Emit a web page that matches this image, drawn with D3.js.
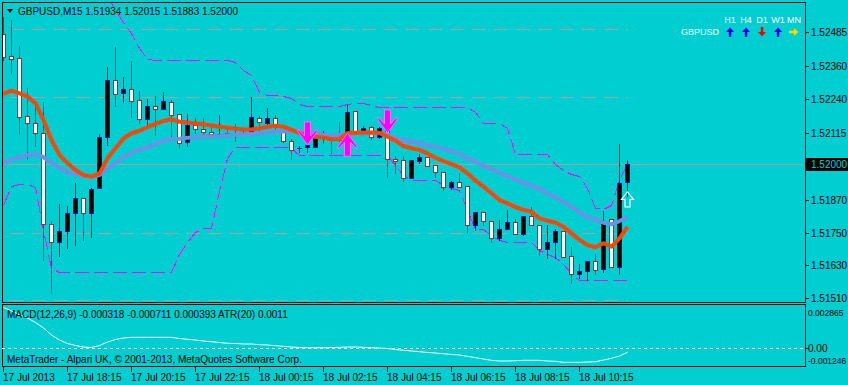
<!DOCTYPE html>
<html><head><meta charset="utf-8">
<script src="https://cdn.jsdelivr.net/npm/d3@7/dist/d3.min.js"></script>
<style>html,body{margin:0;padding:0;background:#00CED1;}svg{display:block;}text{font-family:"Liberation Sans",Arial,sans-serif;}</style>
</head><body>
<script>
// ---------- data ----------
const symbolTitle = "GBPUSD,M15  1.51934 1.52015 1.51883 1.52000";
const timeLabels = ["17 Jul 2013","17 Jul 18:15","17 Jul 20:15","17 Jul 22:15","18 Jul 00:15","18 Jul 02:15","18 Jul 04:15","18 Jul 06:15","18 Jul 08:15","18 Jul 10:15"];
const timeLabelBars = [0,8,16,24,32,40,48,56,64,72];
const priceTicks = [1.52485,1.52360,1.52240,1.52115,1.51870,1.51750,1.51630,1.51510];
const currentPrice = 1.52000;
const priceMin = 1.51510, priceMax = 1.52485;
const macdTicks = ["0.002865","0.00","-0.001246"];
const macdMin = -0.001246, macdMax = 0.002865;
const macdLabel = "MACD(12,26,9) -0.000318 -0.000711 0.000393  ATR(20) 0.0011";
const copyright = "MetaTrader - Alpari UK, \u00A9 2001-2013, MetaQuotes Software Corp.";
const levelPrices = [1.52496, 1.52248, 1.51748, 1.51501];

const open = [1.52478,1.52397,1.52389,1.52177,1.52150,1.52114,1.51781,1.51716,1.51757,1.51821,
1.51876,1.51821,1.51912,1.52099,1.52309,1.52260,1.52276,1.52236,1.52165,1.52214,
1.52202,1.52230,1.52183,1.52083,1.52143,1.52128,1.52119,1.52110,1.52114,1.52112,
1.52110,1.52123,1.52169,1.52150,1.52169,1.52126,1.52087,1.52057,1.52062,1.52065,
1.52100,1.52095,1.52090,1.52114,1.52196,1.52120,1.52136,1.52101,1.52126,1.52020,
1.52016,1.51949,1.52013,1.52026,1.51996,1.51971,1.51918,1.51934,1.51921,1.51778,
1.51826,1.51792,1.51729,1.51762,1.51788,1.51744,1.51812,1.51778,1.51690,1.51714,
1.51756,1.51664,1.51597,1.51609,1.51646,1.51615,1.51799,1.51623,1.51934];
const high = [1.52540,1.52529,1.52434,1.52279,1.52209,1.52230,1.51792,1.51855,1.51847,1.51931,
1.51878,1.51912,1.52111,1.52358,1.52429,1.52321,1.52380,1.52270,1.52240,1.52250,
1.52266,1.52236,1.52185,1.52185,1.52169,1.52169,1.52138,1.52181,1.52138,1.52148,
1.52132,1.52248,1.52177,1.52205,1.52181,1.52126,1.52092,1.52067,1.52075,1.52101,
1.52123,1.52095,1.52156,1.52218,1.52196,1.52141,1.52141,1.52138,1.52156,1.52031,
1.52031,1.52016,1.52038,1.52026,1.51996,1.51971,1.51940,1.51967,1.51921,1.51824,
1.51826,1.51792,1.51796,1.51833,1.51799,1.51812,1.51843,1.51778,1.51778,1.51763,
1.51756,1.51696,1.51634,1.51646,1.51670,1.51830,1.51799,1.52075,1.52015];
const low = [1.52382,1.52336,1.52115,1.52018,1.52067,1.51649,1.51530,1.51664,1.51694,1.51704,
1.51723,1.51735,1.51912,1.52071,1.52214,1.52230,1.52175,1.52150,1.52144,1.52108,
1.52202,1.52104,1.52059,1.52068,1.52114,1.52106,1.52104,1.52110,1.52110,1.52087,
1.52110,1.52123,1.52123,1.52144,1.52126,1.52081,1.52018,1.52046,1.52046,1.52065,
1.52079,1.52043,1.52087,1.52108,1.52114,1.52120,1.52092,1.52095,1.51955,1.51967,
1.51940,1.51949,1.52004,1.51994,1.51953,1.51906,1.51910,1.51918,1.51753,1.51759,
1.51778,1.51716,1.51723,1.51762,1.51744,1.51742,1.51778,1.51668,1.51656,1.51656,
1.51662,1.51566,1.51585,1.51576,1.51598,1.51607,1.51623,1.51598,1.51883];
const close = [1.52395,1.52385,1.52175,1.52150,1.52114,1.51781,1.51716,1.51756,1.51821,1.51876,
1.51821,1.51909,1.52099,1.52309,1.52257,1.52276,1.52233,1.52165,1.52214,1.52202,
1.52232,1.52181,1.52077,1.52144,1.52128,1.52119,1.52110,1.52110,1.52110,1.52110,
1.52115,1.52172,1.52156,1.52169,1.52144,1.52087,1.52053,1.52058,1.52071,1.52095,
1.52102,1.52089,1.52089,1.52193,1.52114,1.52134,1.52101,1.52134,1.52018,1.52013,
1.51949,1.52016,1.52026,1.51994,1.51971,1.51918,1.51934,1.51918,1.51778,1.51824,
1.51792,1.51729,1.51763,1.51788,1.51744,1.51812,1.51778,1.51690,1.51714,1.51756,
1.51662,1.51597,1.51609,1.51646,1.51613,1.51786,1.51623,1.51931,1.52000];

const maFast = [1.52258,1.52270,1.52260,1.52248,1.52224,1.52162,1.52089,1.52034,1.52004,1.51979,
1.51961,1.51955,1.51967,1.52022,1.52059,1.52095,1.52114,1.52123,1.52136,1.52148,
1.52159,1.52165,1.52156,1.52153,1.52150,1.52147,1.52142,1.52138,1.52134,1.52130,
1.52128,1.52128,1.52132,1.52138,1.52141,1.52138,1.52126,1.52114,1.52108,1.52101,
1.52098,1.52092,1.52093,1.52114,1.52116,1.52117,1.52117,1.52116,1.52101,1.52087,
1.52067,1.52059,1.52053,1.52040,1.52024,1.52012,1.52001,1.51989,1.51967,1.51940,
1.51918,1.51894,1.51869,1.51857,1.51843,1.51833,1.51826,1.51802,1.51793,1.51786,
1.51771,1.51747,1.51723,1.51704,1.51696,1.51711,1.51698,1.51729,1.51771];
const maSlow = [1.52004,1.52018,1.52026,1.52033,1.52038,1.52026,1.52006,1.51986,1.51969,1.51965,
1.51957,1.51953,1.51961,1.51986,1.52004,1.52026,1.52043,1.52053,1.52062,1.52075,
1.52087,1.52092,1.52094,1.52097,1.52099,1.52101,1.52103,1.52104,1.52106,1.52108,
1.52110,1.52111,1.52114,1.52116,1.52119,1.52120,1.52120,1.52119,1.52117,1.52111,
1.52108,1.52104,1.52108,1.52110,1.52112,1.52114,1.52114,1.52114,1.52110,1.52095,
1.52089,1.52083,1.52077,1.52071,1.52065,1.52056,1.52049,1.52037,1.52022,1.52010,
1.51994,1.51982,1.51969,1.51957,1.51945,1.51933,1.51921,1.51909,1.51894,1.51879,
1.51863,1.51843,1.51823,1.51806,1.51796,1.51786,1.51780,1.51792,1.51806];
const bandUpper = [null,null,null,null,null,null,null,null,null,null,
null,null,null,1.52621,1.52566,1.52522,1.52481,1.52426,1.52386,1.52382,
1.52382,1.52382,1.52382,1.52382,1.52382,1.52382,1.52382,1.52382,1.52382,1.52375,
1.52346,1.52327,1.52265,1.52254,1.52254,1.52250,1.52243,1.52221,1.52214,1.52214,
1.52214,1.52214,1.52214,1.52221,1.52225,1.52225,1.52218,1.52211,1.52211,1.52211,
1.52211,1.52211,1.52211,1.52211,1.52211,1.52211,1.52211,1.52211,1.52210,1.52192,
1.52153,1.52153,1.52153,1.52133,1.52038,1.52038,1.52038,1.52038,1.52038,1.52001,
1.51979,1.51965,1.51957,1.51913,1.51840,1.51836,1.51851,1.51943,1.52005];
const bandLower = [1.51851,1.51921,1.51927,1.51927,1.51917,1.51759,1.51620,1.51605,1.51604,1.51604,
1.51604,1.51604,1.51604,1.51604,1.51604,1.51604,1.51604,1.51604,1.51604,1.51604,
1.51604,1.51604,1.51671,1.51715,1.51752,1.51767,1.51767,1.51902,1.52023,1.52064,
1.52064,1.52064,1.52064,1.52064,1.52064,1.52064,1.52060,1.52034,1.52034,1.52034,
1.52034,1.52034,1.52034,1.52034,1.52034,1.52034,1.52034,1.52034,1.52034,1.51998,
1.51961,1.51943,1.51943,1.51943,1.51943,1.51924,1.51913,1.51906,1.51833,1.51763,
1.51763,1.51741,1.51723,1.51715,1.51715,1.51715,1.51715,1.51686,1.51671,1.51660,
1.51635,1.51602,1.51576,1.51576,1.51576,1.51576,1.51576,1.51576,1.51576];
const macd = [0.002696,0.002460,0.002224,0.001988,0.001685,0.001314,0.000842,0.000505,0.000270,0.000135,
0.000034,0.000000,0.000135,0.000371,0.000539,0.000640,0.000687,0.000687,0.000687,0.000687,
0.000687,0.000687,0.000607,0.000553,0.000505,0.000438,0.000391,0.000337,0.000283,0.000270,
0.000236,0.000236,0.000189,0.000168,0.000121,0.000081,0.000034,0.000000,-0.000013,-0.000013,
-0.000013,0.000000,0.000013,0.000034,0.000034,0.000013,-0.000013,-0.000034,-0.000067,-0.000135,
-0.000189,-0.000236,-0.000283,-0.000337,-0.000371,-0.000418,-0.000472,-0.000505,-0.000593,-0.000687,
-0.000775,-0.000863,-0.000910,-0.000910,-0.000890,-0.000863,-0.000863,-0.000863,-0.000910,-0.000930,
-0.000997,-0.000997,-0.000997,-0.000977,-0.000957,-0.000842,-0.000728,-0.000573,-0.000318];

const signalBars = [38, 43, 48];
const signalDirs = ["down", "up", "down"];
const signalPrices = [1.52071, 1.52114, 1.52115];
const buyArrowBar = 78, buyArrowPrice = 1.51899;

const tfLabels = ["H1","H4","D1","W1","MN"];
const tfDirs = ["up","up","down","up","right"];
const tfColors = ["#0000ff","#0000ff","#ff0000","#0000ff","#ffd700"];

// ---------- layout ----------
const W = 848, H = 385;
const bg = "#00CED1";
const x = d3.scaleLinear().domain([0, 78]).range([3, 627]);
const y = d3.scaleLinear().domain([priceMin, priceMax]).range([298, 32]);
const ym = d3.scaleLinear().domain([macdMin, macdMax]).range([366, 305]);
const tf = d3.scaleLinear().domain([0, 4]).range([730, 794]);

const svg = d3.select("body").append("svg").attr("width", W).attr("height", H);
svg.append("rect").attr("width", W).attr("height", H).attr("fill", bg);

const defs = svg.append("defs");
defs.append("clipPath").attr("id","mainClip").append("rect").attr("x",2).attr("y",3).attr("width",803).attr("height",299);
defs.append("clipPath").attr("id","subClip").append("rect").attr("x",2).attr("y",305).attr("width",803).attr("height",61);

const main = svg.append("g").attr("clip-path","url(#mainClip)");
const idx = d3.range(open.length);
const px = i => Math.round(x(i));

// gray dashed levels
main.selectAll("line.level").data(levelPrices).join("line")
  .attr("x1", x(1) - 1).attr("x2", x(78) + 1)
  .attr("y1", d => Math.round(y(d)) + 0.5).attr("y2", d => Math.round(y(d)) + 0.5)
  .attr("stroke", "#ae9e9e").attr("stroke-width", 1).attr("stroke-dasharray", "14,8")
  .attr("shape-rendering", "crispEdges");

// current price line
main.append("line").attr("x1", 2).attr("x2", 805)
  .attr("y1", Math.round(y(currentPrice)) + 0.5).attr("y2", Math.round(y(currentPrice)) + 0.5)
  .attr("stroke", "#a0a0a0").attr("stroke-width", 1).attr("shape-rendering", "crispEdges");

// bands (magenta dashed)
const bandLine = d3.line().defined(d => d != null).x((d, i) => px(i) + 0.5).y(d => Math.round(y(d)) + 0.5);
[bandUpper, bandLower].forEach(arr => {
  main.append("path").datum(arr).attr("d", bandLine)
    .attr("fill", "none").attr("stroke", "#ff00ff").attr("stroke-width", 1).attr("stroke-dasharray", "14,5")
    .attr("shape-rendering", "crispEdges");
});

// candles
const cg = main.append("g").attr("shape-rendering", "crispEdges");
idx.forEach(i => {
  const bull = close[i] >= open[i];
  const col = bull ? "#0000ff" : "#ff0000";
  const cx = px(i);
  cg.append("line").attr("x1", cx + 0.5).attr("x2", cx + 0.5)
    .attr("y1", Math.round(y(high[i]))).attr("y2", Math.round(y(low[i])) + 1)
    .attr("stroke", col).attr("stroke-width", 1);
  const t = Math.round(y(Math.max(open[i], close[i])));
  const b = Math.round(y(Math.min(open[i], close[i])));
  if (b - t <= 1) {
    cg.append("line").attr("x1", cx - 2).attr("x2", cx + 3)
      .attr("y1", t + 0.5).attr("y2", t + 0.5).attr("stroke", col).attr("stroke-width", 1);
  } else {
    cg.append("rect").attr("x", cx - 1.5).attr("y", t + 0.5)
      .attr("width", 4).attr("height", b - t)
      .attr("fill", bull ? "#000000" : "#ffffff").attr("stroke", col).attr("stroke-width", 1);
  }
});

// moving averages
const maLine = d3.line().x((d, i) => px(i) + 0.5).y(d => y(d));
main.append("path").datum(maSlow).attr("d", maLine).attr("fill", "none")
  .attr("stroke", "#6f8fe6").attr("stroke-width", 4).attr("stroke-linejoin", "round");
main.append("path").datum(maFast).attr("d", maLine).attr("fill", "none")
  .attr("stroke", "#ff4500").attr("stroke-width", 4).attr("stroke-linejoin", "round");

// signal arrows
const downArrow = "M0,0 L-9.5,-13 L-9.5,-16 L-3,-9 L-3,-23 L3,-23 L3,-9 L9.5,-16 L9.5,-13 Z";
const upArrow = "M0,0 L-9.5,13 L-9.5,16 L-3,9 L-3,23 L3,23 L3,9 L9.5,16 L9.5,13 Z";
signalBars.forEach((b, k) => {
  main.append("path").attr("d", signalDirs[k] === "down" ? downArrow : upArrow)
    .attr("transform", `translate(${px(b) + 0.5},${y(signalPrices[k])})`)
    .attr("fill", "#ff00ff").attr("stroke", "#ff7fff").attr("stroke-width", 0.8);
});
main.append("path").attr("d", "M0,0 L-6,7.5 L-2.5,7.5 L-2.5,15 L2.5,15 L2.5,7.5 L6,7.5 Z")
  .attr("transform", `translate(${px(buyArrowBar) + 0.5},${y(buyArrowPrice)})`)
  .attr("fill", "none").attr("stroke", "#ffffff").attr("stroke-width", 1.2);

// borders
svg.append("rect").attr("x", 2.5).attr("y", 2.5).attr("width", 803).attr("height", 300)
  .attr("fill", "none").attr("stroke", "#000").attr("stroke-width", 1);
svg.append("rect").attr("x", 2.5).attr("y", 304.5).attr("width", 803).attr("height", 62)
  .attr("fill", "none").attr("stroke", "#000").attr("stroke-width", 1);

// title
svg.append("path").attr("d", "M7,9 L13,9 L10,13 Z").attr("fill", "#000");
svg.append("text").attr("x", 18).attr("y", 11).attr("dominant-baseline", "central")
  .attr("font-size", 10).attr("fill", "#000").text(symbolTitle);

// price axis
const pa = svg.append("g");
priceTicks.forEach(p => {
  const yy = Math.round(y(p)) + 0.5;
  pa.append("line").attr("x1", 806).attr("x2", 809).attr("y1", yy).attr("y2", yy).attr("stroke", "#000");
  pa.append("text").attr("x", 811).attr("y", yy).attr("dominant-baseline", "central")
    .attr("font-size", 10).attr("fill", "#000").text(p.toFixed(5));
});
const cy = Math.round(y(currentPrice)) + 0.5;
pa.append("rect").attr("x", 806).attr("y", cy - 6.5).attr("width", 42).attr("height", 13).attr("fill", "#000");
pa.append("text").attr("x", 811).attr("y", cy).attr("dominant-baseline", "central")
  .attr("font-size", 10).attr("fill", bg).text(currentPrice.toFixed(5));

// timeframe panel
const tp = svg.append("g");
tfLabels.forEach((t, k) => {
  tp.append("text").attr("x", tf(k)).attr("y", 20).attr("text-anchor", "middle").attr("dominant-baseline", "central")
    .attr("font-size", 9).attr("fill", "#fff").text(t);
  let d;
  if (tfDirs[k] === "up") d = "M0,-4.5 L-4,0 L-1.2,0 L-1.2,5 L1.2,5 L1.2,0 L4,0 Z";
  else if (tfDirs[k] === "down") d = "M0,4.5 L-4,0 L-1.2,0 L-1.2,-5 L1.2,-5 L1.2,0 L4,0 Z";
  else d = "M4.5,0 L0,-4 L0,-1.2 L-5,-1.2 L-5,1.2 L0,1.2 L0,4 Z";
  tp.append("path").attr("d", d).attr("transform", `translate(${tf(k)},32)`).attr("fill", tfColors[k]);
});
tp.append("text").attr("x", 719).attr("y", 32).attr("text-anchor", "end").attr("dominant-baseline", "central")
  .attr("font-size", 9).attr("fill", "#fff").text("GBPUSD");

// indicator window
const sub = svg.append("g").attr("clip-path", "url(#subClip)");
sub.append("line").attr("x1", 2).attr("x2", 805)
  .attr("y1", Math.round(ym(0)) + 0.5).attr("y2", Math.round(ym(0)) + 0.5)
  .attr("stroke", "#fff").attr("stroke-width", 1).attr("stroke-dasharray", "3,3").attr("shape-rendering", "crispEdges");
sub.append("path").datum(macd)
  .attr("d", d3.line().x((d, i) => px(i) + 0.5).y(d => ym(d)))
  .attr("fill", "none").attr("stroke", "#fff").attr("stroke-width", 1);
svg.append("text").attr("x", 7).attr("y", 314).attr("dominant-baseline", "central")
  .attr("font-size", 10).attr("fill", "#000").text(macdLabel);
svg.append("text").attr("x", 7).attr("y", 359).attr("dominant-baseline", "central")
  .attr("font-size", 10).attr("fill", "#000").text(copyright);
const macdTickY = [313, Math.round(ym(0)) + 0.5, 361];
macdTicks.forEach((t, k) => {
  svg.append("text").attr("x", 808).attr("y", macdTickY[k]).attr("dominant-baseline", "central")
    .attr("font-size", k === 1 ? 10 : 8.5).attr("fill", "#000").text(t);
});
svg.append("line").attr("x1", 806).attr("x2", 809).attr("y1", macdTickY[1]).attr("y2", macdTickY[1]).attr("stroke", "#000");

// time axis
timeLabelBars.forEach((b, k) => {
  const xx = px(b) + 0.5;
  svg.append("line").attr("x1", xx).attr("x2", xx).attr("y1", 367).attr("y2", 372).attr("stroke", "#000");
  svg.append("text").attr("x", px(b)).attr("y", 377).attr("dominant-baseline", "central")
    .attr("font-size", 10).attr("fill", "#000").text(timeLabels[k]);
});
</script>
</body></html>
